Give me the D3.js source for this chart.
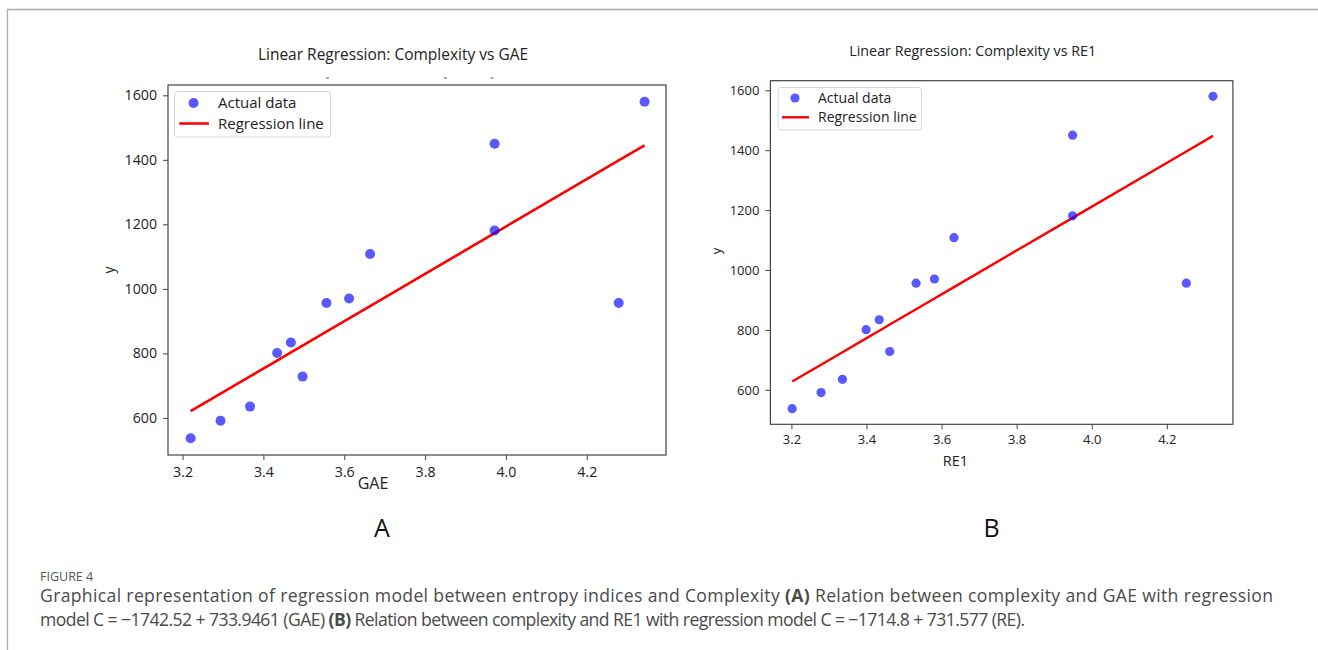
<!DOCTYPE html>
<html>
<head>
<meta charset="utf-8">
<script src="https://cdn.jsdelivr.net/npm/d3@7"></script>
<style>
  body { margin: 0; background: #fff; }
  svg { display: block; font-family: "Open Sans", sans-serif; }
  .tick text { fill: #222; }
  .caption { font-family: "Open Sans", sans-serif; fill: #4a4a4a; }
</style>
</head>
<body>
<div id="fig"></div>
<script>
// values
var complexity = [537, 591, 635, 801, 834, 728, 956, 970, 1108, 1181, 1450, 956, 1580];
var gaeValues  = [3.22, 3.294, 3.367, 3.434, 3.468, 3.497, 3.556, 3.612, 3.664, 3.972, 3.972, 4.279, 4.343];
var re1Values  = [3.202, 3.279, 3.336, 3.399, 3.434, 3.462, 3.532, 3.581, 3.633, 3.949, 3.949, 4.252, 4.323];
var xTicks = [3.2, 3.4, 3.6, 3.8, 4.0, 4.2];
var yTicks = [600, 800, 1000, 1200, 1400, 1600];
// regression models from the caption: C = a + b * x
var modelGAE = [-1742.52, 733.9461];
var modelRE1 = [-1714.8, 731.577];

var width = 1318, height = 650;

var svg = d3.select('#fig')
  .append('svg')
  .attr('width', width)
  .attr('height', height);

// figure frame (top and left rule)
svg.append('path')
  .attr('d', 'M7.5,650 L7.5,9.5 L1318,9.5')
  .attr('fill', 'none')
  .attr('stroke', '#aaa')
  .attr('stroke-width', 1.3);

function panel(cfg) {
  var x = d3.scaleLinear().domain(cfg.xDomain).range([cfg.left, cfg.right]);
  var y = d3.scaleLinear().domain([485, 1632]).range([cfg.bottom, cfg.top]);
  var g = svg.append('g');

  var pts = cfg.xs.map(function(v, i) { return { x: v, y: complexity[i] }; });

  // regression line through the fitted values
  var line = d3.line()
    .x(function(d) { return x(d.x); })
    .y(function(d) { return y(cfg.model[0] + cfg.model[1] * d.x); });
  g.append('path')
    .datum(pts)
    .attr('d', line)
    .attr('fill', 'none')
    .attr('stroke', 'red')
    .attr('stroke-width', cfg.lw);

  g.selectAll('.dot')
    .data(pts)
    .enter()
    .append('circle')
    .attr('class', 'dot')
    .attr('cx', function(d) { return x(d.x); })
    .attr('cy', function(d) { return y(d.y); })
    .attr('r', cfg.r)
    .attr('fill', 'blue')
    .attr('fill-opacity', 0.65);

  // frame
  g.append('rect')
    .attr('x', cfg.left).attr('y', cfg.top)
    .attr('width', cfg.right - cfg.left)
    .attr('height', cfg.bottom - cfg.top)
    .attr('fill', 'none')
    .attr('stroke', '#444')
    .attr('stroke-width', 1.2);

  var xAxis = g.append('g')
    .attr('transform', 'translate(0,' + cfg.bottom + ')')
    .call(d3.axisBottom(x).tickValues(xTicks).tickFormat(d3.format('.1f'))
      .tickSize(5).tickPadding(cfg.xpad));
  var yAxis = g.append('g')
    .attr('transform', 'translate(' + cfg.left + ',0)')
    .call(d3.axisLeft(y).tickValues(yTicks).tickFormat(d3.format('d'))
      .tickSize(5).tickPadding(6));
  [xAxis, yAxis].forEach(function(a) {
    a.select('.domain').remove();
    a.selectAll('line').attr('stroke', '#444');
    a.selectAll('text').style('font-size', cfg.tick + 'px');
    a.attr('font-family', null);
  });

  g.append('text')
    .attr('x', cfg.titleX).attr('y', cfg.titleY)
    .attr('text-anchor', 'middle')
    .style('font-size', cfg.titleSize + 'px')
    .attr('fill', '#222')
    .text(cfg.title);

  g.append('text')
    .attr('x', cfg.xlabX).attr('y', cfg.xlabY)
    .attr('text-anchor', 'middle')
    .style('font-size', cfg.labSize + 'px')
    .attr('fill', '#222')
    .text(cfg.xlabel);

  g.append('text')
    .attr('transform', 'translate(' + cfg.ylabX + ',' + cfg.ylabY + ') rotate(-90)')
    .attr('text-anchor', 'middle')
    .attr('dy', '0.35em')
    .style('font-size', cfg.tick + 'px')
    .attr('fill', '#222')
    .text('y');

  // legend
  var L = cfg.legend;
  g.append('rect')
    .attr('x', L.x).attr('y', L.y).attr('width', L.w).attr('height', L.h)
    .attr('rx', 3)
    .attr('fill', '#fff').attr('fill-opacity', 0.8)
    .attr('stroke', '#d6d6d6');
  g.append('circle')
    .attr('cx', L.mx).attr('cy', L.r1)
    .attr('r', cfg.r)
    .attr('fill', 'blue').attr('fill-opacity', 0.65);
  g.append('line')
    .attr('x1', L.l1).attr('x2', L.l2)
    .attr('y1', L.r2).attr('y2', L.r2)
    .attr('stroke', 'red').attr('stroke-width', cfg.lw);
  g.append('text')
    .attr('x', L.tx).attr('y', L.r1).attr('dy', '0.35em')
    .style('font-size', L.size + 'px').attr('fill', '#222')
    .text('Actual data');
  g.append('text')
    .attr('x', L.tx).attr('y', L.r2).attr('dy', '0.35em')
    .style('font-size', L.size + 'px').attr('fill', '#222')
    .text('Regression line');

  g.append('text')
    .attr('x', cfg.letterX).attr('y', 536.5)
    .attr('text-anchor', 'middle')
    .style('font-size', '25px')
    .attr('fill', '#111')
    .text(cfg.letter);
  return g;
}

var gA = panel({
  xs: gaeValues, model: modelGAE,
  xDomain: [3.164, 4.396],
  left: 168, right: 666, top: 85, bottom: 455,
  r: 5, lw: 2.6, tick: 14.2, xpad: 6.5,
  title: 'Linear Regression: Complexity vs GAE', titleX: 393, titleY: 60, titleSize: 15.5,
  xlabel: 'GAE', xlabX: 373, xlabY: 489, labSize: 16,
  ylabX: 109, ylabY: 270,
  letter: 'A', letterX: 382,
  legend: { x: 174.5, y: 91.5, w: 156, h: 45.5, mx: 193.6, r1: 103, r2: 123.5,
            l1: 179.3, l2: 208.9, tx: 218, size: 15 }
});

// stray marks under the left title
gA.selectAll('.mark')
  .data([327.5, 445.4, 492.1])
  .enter()
  .append('line')
  .attr('x1', function(d) { return d - 1.5; })
  .attr('x2', function(d) { return d + 1.5; })
  .attr('y1', 78).attr('y2', 78)
  .attr('stroke', '#777').attr('stroke-width', 1.2);

panel({
  xs: re1Values, model: modelRE1,
  xDomain: [3.144, 4.376],
  left: 770.4, right: 1232.9, top: 80.7, bottom: 424.3,
  r: 4.6, lw: 2.4, tick: 13, xpad: 5,
  title: 'Linear Regression: Complexity vs RE1', titleX: 972.7, titleY: 56, titleSize: 14.3,
  xlabel: 'RE1', xlabX: 955.5, xlabY: 466, labSize: 14.5,
  ylabX: 716, ylabY: 251,
  letter: 'B', letterX: 991.7,
  legend: { x: 778, y: 87.5, w: 143.5, h: 42.5, mx: 795, r1: 98, r2: 117.3,
            l1: 782, l2: 809, tx: 818, size: 14 }
});

// caption
var cap = svg.append('g').attr('class', 'caption');
cap.append('text')
  .attr('x', 40).attr('y', 581)
  .style('font-size', '12.5px')
  .attr('fill', '#555')
  .text('FIGURE 4');

var line1 = cap.append('text').attr('x', 40).attr('y', 602)
  .style('font-size', '17.6px')
  .attr('textLength', 1233).attr('lengthAdjust', 'spacing');
line1.append('tspan').text('Graphical representation of regression model between entropy indices and Complexity ');
line1.append('tspan').attr('font-weight', 'bold').text('(A)');
line1.append('tspan').text(' Relation between complexity and GAE with regression');

var line2 = cap.append('text').attr('x', 40).attr('y', 626)
  .style('font-size', '17.6px')
  .attr('textLength', 985).attr('lengthAdjust', 'spacing');
line2.append('tspan').text('model C = \u22121742.52 + 733.9461 (GAE) ');
line2.append('tspan').attr('font-weight', 'bold').text('(B)');
line2.append('tspan').text(' Relation between complexity and RE1 with regression model C = \u22121714.8 + 731.577 (RE).');
</script>
</body>
</html>
